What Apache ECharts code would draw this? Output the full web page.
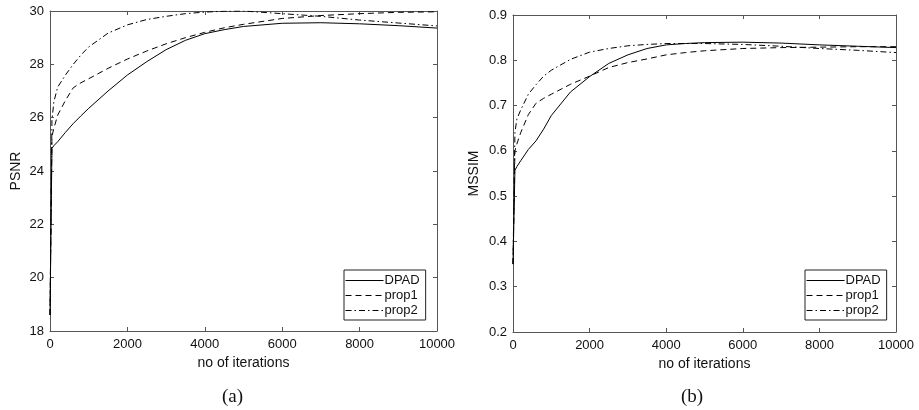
<!DOCTYPE html>
<html>
<head>
<meta charset="utf-8">
<script src="https://cdn.jsdelivr.net/npm/echarts@6/dist/echarts.min.js"></script>
<style>html,body{margin:0;padding:0;background:#fff;}#c{width:919px;height:410px;}</style>
</head>
<body>
<div id="c"></div>
<script>
// Shared iteration grid (x values)
const iterations = [0, 50, 100, 200, 400, 600, 800, 1000, 1500, 2000, 2500, 3000, 3500, 4000, 4500, 5000, 6000, 7000, 8000, 9000, 10000];
const xTicks = [0, 2000, 4000, 6000, 8000, 10000];

// (a) PSNR
const psnrDPAD  = [18.6, 24.85, 24.95, 25.1, 25.45, 25.78, 26.07, 26.35, 27.0, 27.6, 28.1, 28.55, 28.9, 29.15, 29.3, 29.42, 29.54, 29.56, 29.52, 29.45, 29.36];
const psnrProp1 = [18.6, 25.3, 25.6, 26.1, 26.65, 27.12, 27.31, 27.46, 27.85, 28.2, 28.5, 28.77, 29.0, 29.2, 29.37, 29.5, 29.72, 29.83, 29.9, 29.95, 29.97];
const psnrProp2 = [18.6, 25.9, 26.6, 27.15, 27.6, 28.0, 28.35, 28.65, 29.17, 29.48, 29.68, 29.8, 29.9, 29.96, 29.99, 30.0, 29.9, 29.8, 29.66, 29.55, 29.44];

// (b) MSSIM
const mssimDPAD  = [0.35, 0.557, 0.565, 0.578, 0.603, 0.622, 0.648, 0.678, 0.730, 0.764, 0.793, 0.812, 0.826, 0.834, 0.837, 0.839, 0.840, 0.838, 0.834, 0.831, 0.828];
const mssimProp1 = [0.35, 0.600, 0.615, 0.640, 0.680, 0.705, 0.716, 0.725, 0.747, 0.765, 0.784, 0.795, 0.803, 0.812, 0.817, 0.821, 0.826, 0.828, 0.829, 0.830, 0.830];
const mssimProp2 = [0.35, 0.640, 0.670, 0.690, 0.725, 0.746, 0.765, 0.778, 0.802, 0.818, 0.826, 0.832, 0.835, 0.837, 0.837, 0.837, 0.835, 0.831, 0.826, 0.822, 0.817];

const seriesNames = ['DPAD', 'prop1', 'prop2'];
const FONT = 'Liberation Sans';
const AX = '#555';

function pairs(vals) { return iterations.map((x, i) => [x, vals[i]]); }

const styles = [
  { type: 'solid', width: 1 },
  { type: [6, 4], width: 1 },
  { type: [6, 3, 1.5, 3], width: 1 }
];

function xAxes(gridIndex) {
  const base = {
    type: 'value', gridIndex, min: 0, max: 10000, interval: 2000,
    axisLine: { show: true, onZero: false, lineStyle: { color: AX, width: 1 } },
    axisTick: { show: true, inside: true, length: 4, lineStyle: { color: AX } },
    splitLine: { show: false }
  };
  return [
    Object.assign({}, base, {
      position: 'bottom',
      name: 'no of iterations', nameLocation: 'middle', nameGap: 25,
      nameTextStyle: { fontFamily: FONT, fontSize: 14, color: '#111' },
      axisLabel: { fontFamily: FONT, fontSize: 13, color: '#111', margin: 7, formatter: v => String(v) }
    }),
    Object.assign({}, base, { position: 'top', axisLabel: { show: false } })
  ];
}

function yAxes(gridIndex, min, max, interval, name, nameGap, fmt) {
  const base = {
    type: 'value', gridIndex, min, max, interval,
    axisLine: { show: true, onZero: false, lineStyle: { color: AX, width: 1 } },
    axisTick: { show: true, inside: true, length: 4, lineStyle: { color: AX } },
    splitLine: { show: false }
  };
  return [
    Object.assign({}, base, {
      position: 'left',
      name, nameLocation: 'middle', nameGap, nameRotate: 90,
      nameTextStyle: { fontFamily: FONT, fontSize: 14, color: '#111' },
      axisLabel: { fontFamily: FONT, fontSize: 13, color: '#111', margin: 6, formatter: fmt }
    }),
    Object.assign({}, base, { position: 'right', axisLabel: { show: false } })
  ];
}

function makeSeries(xi, yi, arrs) {
  return arrs.map((a, k) => ({
    name: seriesNames[k], type: 'line', xAxisIndex: xi, yAxisIndex: yi,
    data: pairs(a), symbol: 'none', showSymbol: false, smooth: false,
    lineStyle: Object.assign({ color: '#000' }, styles[k]),
    itemStyle: { color: '#000' },
    z: 3
  }));
}

function legend(left, top) {
  return {
    orient: 'vertical', left, top,
    data: seriesNames,
    itemWidth: 38, itemHeight: 13, itemGap: 2,
    padding: [4, 6, 3, 1],
    borderColor: '#222', borderWidth: 1, backgroundColor: '#fff',
    itemStyle: { opacity: 0, borderWidth: 0 },
    lineStyle: { width: 1 },
    textStyle: { fontFamily: FONT, fontSize: 13, color: '#111', padding: [0, 0, 0, -4] },
    selectedMode: false
  };
}

const chart = echarts.init(document.getElementById('c'), null, { renderer: 'canvas' });
const option = {
  animation: false,
  backgroundColor: '#fff',
  grid: [
    { left: 50, top: 11, width: 387, height: 320 },
    { left: 513, top: 15, width: 383, height: 317 }
  ],
  xAxis: xAxes(0).concat(xAxes(1)),
  yAxis: yAxes(0, 18, 30, 2, 'PSNR', 27, v => String(v))
    .concat(yAxes(1, 0.2, 0.9, 0.1, 'MSSIM', 32, v => v.toFixed(1))),
  legend: [legend(344, 270), legend(805, 270)],
  series: makeSeries(0, 0, [psnrDPAD, psnrProp1, psnrProp2])
    .concat(makeSeries(2, 2, [mssimDPAD, mssimProp1, mssimProp2])),
  graphic: [
    { type: 'text', left: 233 - 11, top: 388, style: { text: '(a)', font: '19px "Liberation Serif"', fill: '#111' } },
    { type: 'text', left: 692 - 11, top: 388, style: { text: '(b)', font: '19px "Liberation Serif"', fill: '#111' } }
  ]
};
chart.setOption(option);
</script>
</body>
</html>
